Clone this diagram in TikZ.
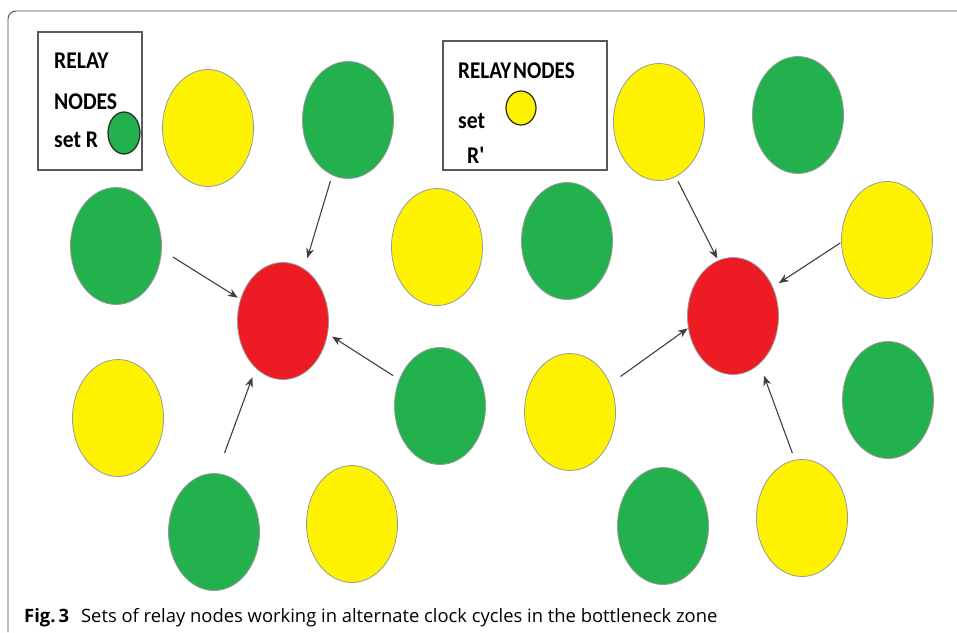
\documentclass[tikz,border=0pt]{standalone}
\usepackage{fontspec}
\setmainfont{Open Sans}
\newfontfamily\legfont{Carlito}
\usetikzlibrary{shapes.geometric,arrows.meta}
\definecolor{relyellow}{HTML}{FFF200}
\definecolor{relgreen}{HTML}{22B14C}
\definecolor{relred}{HTML}{ED1C24}
\begin{document}
\begin{tikzpicture}[x=1pt,y=-1pt,
  relay/.style={ellipse, draw=black!40, line width=0.8pt, inner sep=0pt, minimum width=91pt, minimum height=117pt},
  yel/.style={relay, fill=relyellow},
  grn/.style={relay, fill=relgreen},
  rd/.style={relay, fill=relred},
  mini/.style={ellipse, draw=black!85, line width=1.2pt, inner sep=0pt},
  arr/.style={-{Stealth[length=10pt,width=8pt]}, draw=black!75, line width=1.1pt},
  legbox/.style={draw=black!65, line width=1.6pt, inner sep=0pt},
  legtext/.style={font=\legfont\bfseries\fontsize{24}{24}\selectfont, anchor=base west, inner sep=0pt}]
\fill[white] (0,0) rectangle (957,632);
\useasboundingbox (0,0) rectangle (957,632);
% frame
\draw[black!70, line width=0.9pt, rounded corners=8pt] (957,11) -- (8,11) -- (8,632);
% legends
\node[legbox, minimum width=104pt, minimum height=138pt] (leg1) at (90,101) {};
\node[legtext] (l1a) at (54,68) {\scalebox{0.9}[1]{RELAY}};
\node[legtext] (l1b) at (54,109) {\scalebox{0.9}[1]{NODES}};
\node[legtext] (l1c) at (54,147) {\scalebox{0.9}[1]{set R}};
\node[mini, fill=relgreen, minimum width=32pt, minimum height=42pt] (m1) at (124,133) {};
\node[legbox, minimum width=164pt, minimum height=129pt] (leg2) at (525,105.5) {};
\node[legtext] (l2a) at (458,78) {\scalebox{0.88}[1]{RELAY\kern2pt NODES}};
\node[legtext] (l2b) at (458,128) {\scalebox{0.9}[1]{set}};
\node[legtext] (l2c) at (467,163) {\scalebox{0.9}[1]{R'}};
\node[mini, fill=relyellow, minimum width=30pt, minimum height=34pt] (m2) at (521,108) {};
% left group
\node[yel] (y1) at (208,128) {};
\node[grn] (g1) at (348,120) {};
\node[grn] (g2) at (116,246) {};
\node[yel] (y2) at (437,247) {};
\node[rd]  (rL) at (283,321) {};
\node[yel] (y3) at (118,418) {};
\node[grn] (g3) at (440,406) {};
\node[grn] (g4) at (214,532) {};
\node[yel] (y4) at (352,524) {};
% right group
\node[yel] (y5) at (659,122) {};
\node[grn] (g5) at (798,115) {};
\node[grn] (g6) at (567,241) {};
\node[yel] (y6) at (887,240) {};
\node[rd]  (rR) at (733,316) {};
\node[yel] (y7) at (570,412) {};
\node[grn] (g7) at (888,400) {};
\node[grn] (g8) at (663,526) {};
\node[yel] (y8) at (802,518) {};
% arrows
\draw[arr, shorten <=13pt, shorten >=3pt] (g2.-5) -- (rL.153.8);
\draw[arr, shorten <=6pt, shorten >=11pt] (g1.-106.4) -- (rL.68.3);
\draw[arr, shorten <=7pt, shorten >=5pt] (g3.147.5) -- (rL.-16.5);
\draw[arr, shorten <=21.5pt, shorten >=9.5pt] (g4.87.5) -- (rL.-120.5);
\draw[arr, shorten <=5pt, shorten >=2pt] (y5.-73.3) -- (rR.105);
\draw[arr, shorten <=1pt, shorten >=7pt] (y6.-177.1) -- (rR.36.7);
\draw[arr, shorten <=12.5pt, shorten >=0.5pt] (y7.35.9) -- (rR.-165.6);
\draw[arr, shorten <=7pt, shorten >=12.5pt] (y8.97.3) -- (rR.-61);
% caption
\node[anchor=base west, inner sep=0pt, font=\fontsize{18.4}{20}\selectfont] (cap) at (24,622)
  {\textbf{Fig.\,3}\hspace{12pt}Sets of relay nodes working in alternate clock cycles in the bottleneck zone};
\end{tikzpicture}
\end{document}
